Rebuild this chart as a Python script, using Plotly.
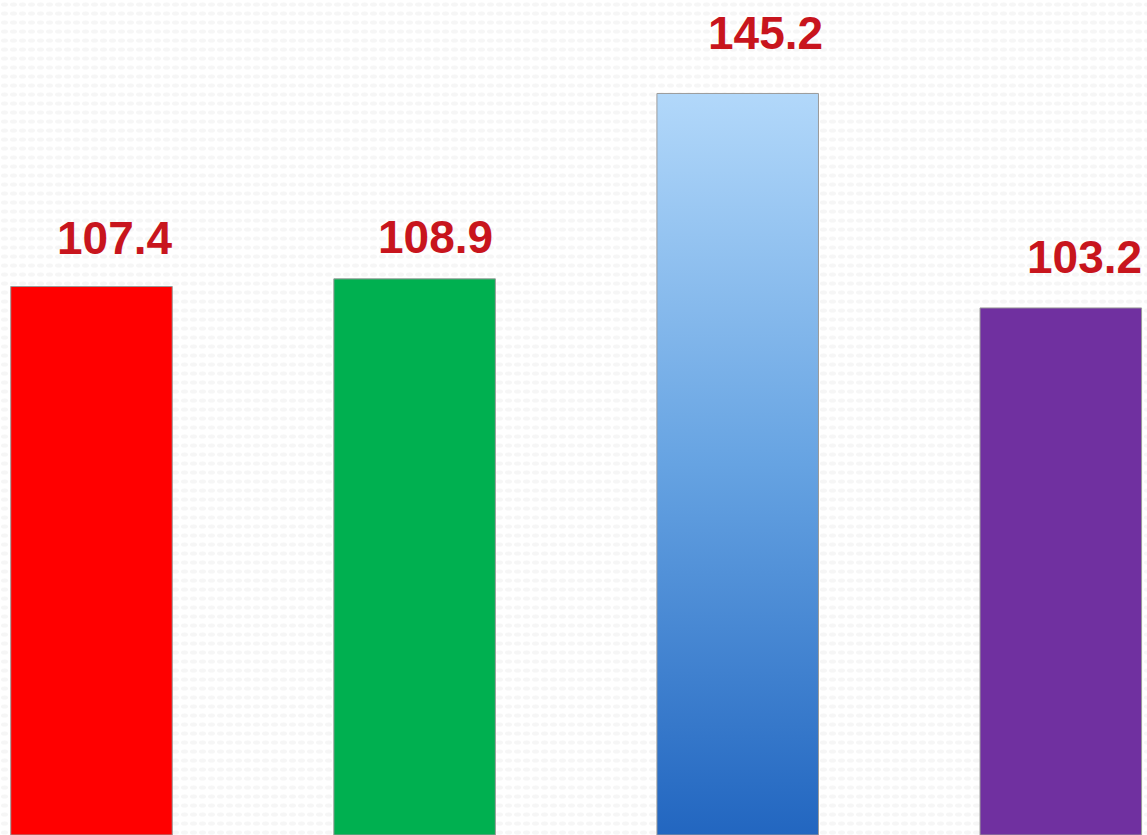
import base64
import plotly.graph_objects as go

# ---- data ----
categories = [0, 1, 2, 3]
values = [107.4, 108.9, 145.2, 103.2]
labels = ["107.4", "108.9", "145.2", "103.2"]
bar_colors = ["#ff0000", "#00b050", "rgba(0,0,0,0)", "#7030a0"]

# ---- styling ----
BAR_W = 0.5
label_xshift = [23, 21, 28, 24]
label_yshift = [49, 42, 60, 51]
LABEL_COLOR = "#c8151d"

def data_uri(svg):
    return "data:image/svg+xml;base64," + base64.b64encode(svg.encode()).decode()

grad_svg = (
    '<svg xmlns="http://www.w3.org/2000/svg" width="100" height="100" preserveAspectRatio="none">'
    '<defs><linearGradient id="g" x1="0" y1="0" x2="0" y2="1">'
    '<stop offset="0" stop-color="#b2d8fa"/>'
    '<stop offset="0.5" stop-color="#66a3e2"/>'
    '<stop offset="1" stop-color="#2266c0"/>'
    '</linearGradient></defs>'
    '<rect x="0" y="0" width="100" height="100" fill="url(#g)"/></svg>'
)

bg_svg = (
    '<svg xmlns="http://www.w3.org/2000/svg" width="1147" height="835">'
    '<defs><pattern id="p" width="9" height="9" patternUnits="userSpaceOnUse">'
    '<rect width="9" height="9" fill="#ffffff"/>'
    '<ellipse cx="4.5" cy="4.5" rx="3.5" ry="2" fill="#f6f6f6"/>'
    '</pattern></defs>'
    '<rect width="1147" height="835" fill="url(#p)"/></svg>'
)

fig = go.Figure()
fig.add_trace(go.Bar(
    x=categories, y=values, width=BAR_W,
    marker=dict(color=bar_colors, line=dict(color="#9a9a9a", width=1)),
    hoverinfo="skip",
))

images = [
    dict(source=data_uri(bg_svg), xref="paper", yref="paper", x=0, y=1,
         sizex=1, sizey=1, sizing="stretch", xanchor="left", yanchor="top",
         layer="below"),
    dict(source=data_uri(grad_svg), xref="x", yref="y",
         x=categories[2] - BAR_W / 2, y=values[2], sizex=BAR_W, sizey=values[2],
         sizing="stretch", xanchor="left", yanchor="top", layer="below"),
]

annotations = []
for i, (c, v, t) in enumerate(zip(categories, values, labels)):
    annotations.append(dict(
        x=c, y=v, text=t, showarrow=False, xanchor="center", yanchor="middle",
        xshift=label_xshift[i], yshift=label_yshift[i],
        font=dict(family="Liberation Sans, Arial, sans-serif", size=46,
                  color=LABEL_COLOR, weight="bold"),
    ))

fig.update_layout(
    width=1147, height=835,
    margin=dict(l=0, r=0, t=0, b=0),
    paper_bgcolor="#ffffff", plot_bgcolor="rgba(0,0,0,0)",
    showlegend=False,
    xaxis=dict(range=[-0.2832, 3.2668], visible=False, fixedrange=True),
    yaxis=dict(range=[0, 163.5], visible=False, fixedrange=True),
    images=images, annotations=annotations,
)

fig.write_html(
    "out.html",
    config={"displayModeBar": False},
    post_script="document.body.style.margin='0';document.body.style.overflow='hidden';",
)
